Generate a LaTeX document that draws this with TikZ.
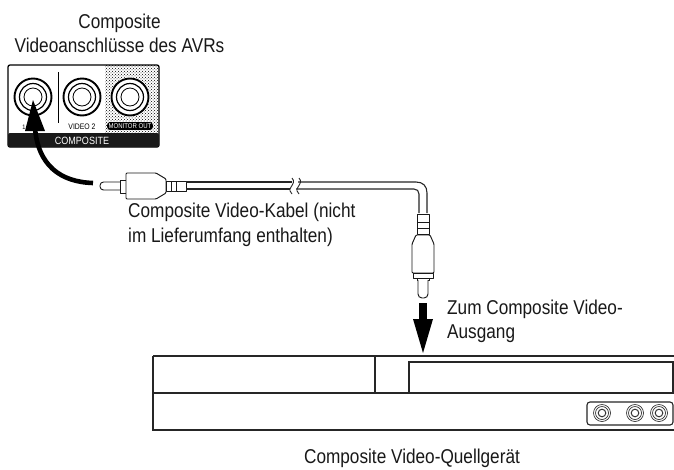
\documentclass[tikz,border=0pt]{standalone}
\usepackage{fontspec}
\setmainfont[FakeStretch=0.86]{Liberation Sans}
\usetikzlibrary{patterns}
\tikzset{
 lbl/.style={inner sep=0pt,font=\fontsize{20}{24.6}\selectfont,text=black!90},
 ln/.style={draw=black!85,line width=1.1pt},
 plug/.style={draw=black!90,line width=.95pt,fill=white,line join=round},
 bigjack/.style={draw=black,line width=1.2pt},
 smalljack/.style={draw=black!80,line width=.7pt},
 bar/.style={fill=black!90,draw=none}
}
\newcommand{\bigjackat}[2]{%
 \draw[bigjack,line width=1.9pt] (#1,#2) circle[radius=18.5];
 \draw[bigjack] (#1,#2) circle[radius=13.5];
 \draw[bigjack,line width=.8pt] (#1,#2) circle[radius=9];
}
\newcommand{\smalljackat}[2]{%
 \draw[smalljack] (#1,#2) circle[radius=8.5];
 \draw[smalljack] (#1,#2) circle[radius=6.5];
 \draw[smalljack,line width=1pt] (#1,#2) circle[radius=3.8];
}
\begin{document}
\begin{tikzpicture}[x=1pt,y=-1pt]
\useasboundingbox (0,0) rectangle (674,469);
\fill[white] (0,0) rectangle (674,469);
% AVR panel
\fill[pattern=crosshatch dots,pattern color=black] (105,65) rectangle (159,133);
\draw[black,line width=1.3pt,rounded corners=2pt] (8,65) rectangle (159,147);
\fill[bar,rounded corners=2pt] (8,133) -- (159,133) -- (159,147) -- (8,147) -- cycle;
\draw[black,line width=.9pt] (58,72) -- (58,123);
\fill[white] (130,97) circle[radius=20];
\bigjackat{33}{97}
\bigjackat{82}{97}
\bigjackat{130}{97}
\node[inner sep=0pt,font=\fontsize{6.5}{7}\selectfont] (v1) at (24,127) {1};
\node[inner sep=0pt,font=\fontsize{8}{8}\selectfont] (v2) at (82,127) {VIDEO 2};
\node[inner sep=1.5pt,rounded corners=3pt,fill=black,text=white,font=\fontsize{7}{7}\selectfont] (mo) at (130,126) {MONITOR OUT};
\node[inner sep=0pt,text=white,font=\fontsize{10.5}{10}\selectfont] (cp) at (82,141) {COMPOSITE};
% curved arrow
\coordinate (as) at (93,183);
\draw[black,line width=4.6pt] (as) .. controls (60,182) and (38,165) .. (35,128);
\fill[black] (33,100) -- (45,131) -- (25,131) -- cycle;
% horizontal plug
\draw[plug,rounded corners=3.5pt] (120,182) -- (100,182) -- (100,190) -- (120,190);
\draw[plug] (120,180) rectangle (126,193);
\draw[plug,rounded corners=1pt] (126,173) -- (156,173) -- (166,179) -- (166,193) -- (156,199) -- (126,199) -- cycle;
\draw[plug,fill=white] (166,181) rectangle (171,191);
\draw[plug] (171,181) rectangle (176,191);
\draw[plug] (176,181) rectangle (186,191);
% cable
\draw[ln] (186,182) -- (292,182);
\draw[ln] (186,189) -- (290,189);
\draw[ln] (298,182) -- (416,182) .. controls (423,182) and (427,186) .. (427,193) -- (427,213);
\draw[ln] (296,189) -- (414,189) .. controls (417,189) and (419,191) .. (419,194) -- (419,213);
\draw[black!85,line width=.9pt] (292,178) .. controls (295,181) and (293,184) .. (291,187) .. controls (289,190) and (290,192) .. (292,194);
\draw[black!85,line width=.9pt] (299,178) .. controls (302,181) and (300,184) .. (298,187) .. controls (296,190) and (297,192) .. (299,194);
% vertical plug
\draw[plug] (417,214) rectangle (429,222);
\draw[plug] (417,222) rectangle (429,228);
\draw[plug] (417,228) rectangle (429,234);
\draw[plug,rounded corners=1pt] (416,235) -- (430,235) -- (434,244) -- (434,273) -- (412,273) -- (412,244) -- cycle;
\draw[plug] (413,273) rectangle (433,278);
\draw[plug] (417,278) rectangle (429,280);
\draw[plug,rounded corners=4pt] (418,280) -- (418,298) -- (428,298) -- (428,280);
% down arrow
\fill[black] (419,303) rectangle (427,321);
\fill[black] (413,319) -- (433,319) -- (423,353) -- cycle;
% device
\draw[ln] (153,356) -- (674,356);
\draw[ln] (153,356) -- (153,430) -- (674,430);
\draw[ln] (153,393) -- (674,393);
\draw[ln] (375,356) -- (375,393);
\draw[ln] (674,362) -- (409,362) -- (409,393);
\draw[ln] (673,362) -- (673,393);
\draw[ln,rounded corners=3pt] (587,402) rectangle (673,425);
\smalljackat{602}{413}
\smalljackat{635}{413}
\smalljackat{659}{413}
% labels
\node[lbl,align=center,anchor=north] (t1) at (119.5,13.5) {Composite\\Videoanschlüsse des AVRs};
\node[lbl,align=left,anchor=north west] (t3) at (128,203) {Composite Video-Kabel (nicht\\im Lieferumfang enthalten)};
\node[lbl,align=left,anchor=north west] (t4) at (447,299.5) {Zum Composite Video-\\Ausgang};
\node[lbl,anchor=base] (t5) at (412,463) {Composite Video-Quellgerät};
\end{tikzpicture}
\end{document}
